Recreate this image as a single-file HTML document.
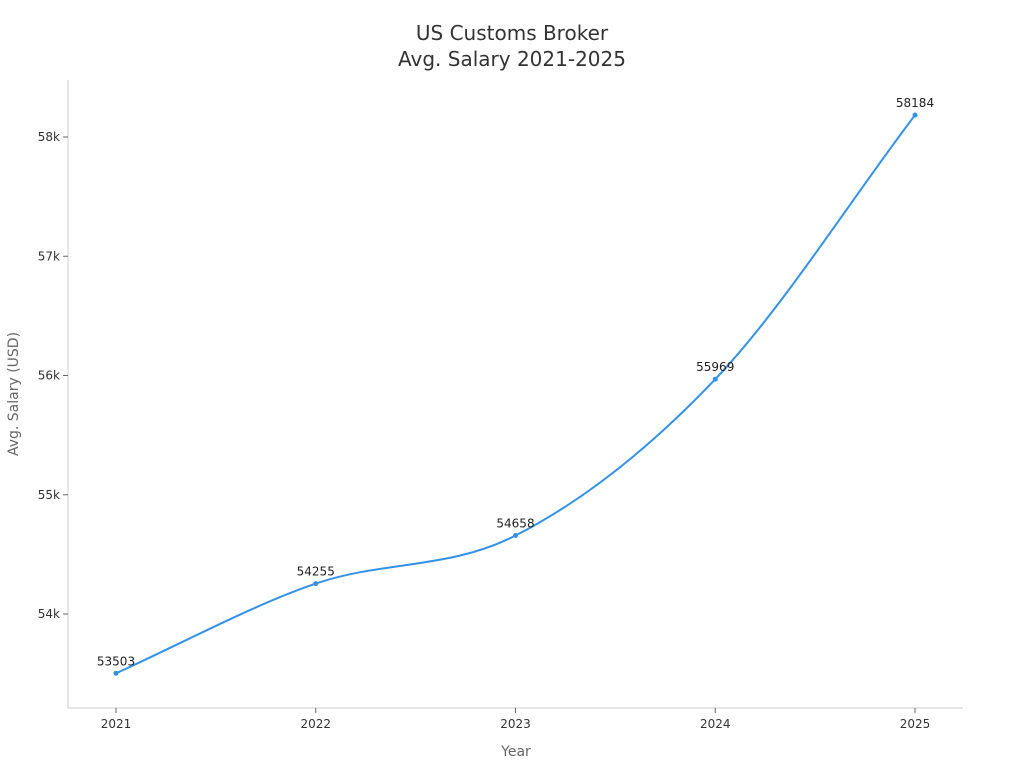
<!DOCTYPE html>
<html><head><meta charset="utf-8"><style>
html,body{margin:0;padding:0;background:#fff;}
svg{display:block;font-family:"DejaVu Sans","Liberation Sans",sans-serif;}
</style></head><body>
<svg id="chart" width="1024" height="768" viewBox="0 0 1024 768">
<text x="512" y="40" text-anchor="middle" font-size="20" fill="#333">US Customs Broker</text>
<text x="512" y="66" text-anchor="middle" font-size="20" fill="#333">Avg. Salary 2021-2025</text>
<line x1="68" y1="80" x2="68" y2="708" stroke="#ccc"/>
<line x1="68" y1="708" x2="963" y2="708" stroke="#ccc"/>
<text x="516" y="756" text-anchor="middle" font-size="14" fill="#666">Year</text>
<text transform="translate(18,394) rotate(-90)" text-anchor="middle" font-size="14" fill="#666">Avg. Salary (USD)</text>
<g id="ticks"></g>
<path id="line" fill="none" stroke="#3591e6" stroke-width="2"/>
<g id="points"></g>
</svg>
<script>
const years = ["2021","2022","2023","2024","2025"];
const salaries = [53503, 54255, 54658, 55969, 58184];
const yTicks = [54000, 55000, 56000, 57000, 58000];
const yTickLabels = ["54k","55k","56k","57k","58k"];

const NS = "http://www.w3.org/2000/svg";
function xs(i){ return 116 + i * (915 - 116) / (years.length - 1); }
function ys(v){ return 614 - (v - 54000) * (614 - 137) / 4000; }
function mk(tag, attrs, parent){ const e=document.createElementNS(NS,tag); for(const k in attrs) e.setAttribute(k,attrs[k]); parent.appendChild(e); return e; }

const tg = document.getElementById("ticks");
yTicks.forEach((t,i)=>{
  const l = mk("line",{x1:63,x2:68,y1:ys(t),y2:ys(t),stroke:"#666"},tg);
  
  
  const tx = mk("text",{x:60,y:ys(t)+4,"text-anchor":"end","font-size":12,fill:"#333"},tg);
  tx.textContent = yTickLabels[i];
  
  
});
years.forEach((y,i)=>{
  const l = mk("line",{x1:xs(i),x2:xs(i),y1:708,y2:713,stroke:"#666"},tg);
  
  
  const tx = mk("text",{x:xs(i),y:728,"text-anchor":"middle","font-size":12,fill:"#333"},tg);
  tx.textContent = y;
  
  
});

const P = salaries.map((v,i)=>[xs(i), ys(v)]);
const n = P.length, d=[], m=[];
for(let i=0;i<n-1;i++) d.push((P[i+1][1]-P[i][1])/(P[i+1][0]-P[i][0]));
m[0]=d[0]; m[n-1]=d[n-2];
for(let i=1;i<n-1;i++){ m[i] = d[i-1]*d[i]<=0 ? 0 : (d[i-1]+d[i])/2; }
for(let i=0;i<n-1;i++){
  if(d[i]===0){m[i]=m[i+1]=0;continue;}
  const a=m[i]/d[i], b=m[i+1]/d[i], s=a*a+b*b;
  if(s>9){const t=3/Math.sqrt(s); m[i]=t*a*d[i]; m[i+1]=t*b*d[i];}
}
let path = `M${P[0][0]},${P[0][1]}`;
for(let i=0;i<n-1;i++){
  const h=(P[i+1][0]-P[i][0])/3;
  path += ` C${P[i][0]+h},${P[i][1]+m[i]*h} ${P[i+1][0]-h},${P[i+1][1]-m[i+1]*h} ${P[i+1][0]},${P[i+1][1]}`;
}
document.getElementById("line").setAttribute("d", path);

const pg = document.getElementById("points");
salaries.forEach((v,i)=>{
  const c = mk("circle",{cx:xs(i),cy:ys(v),r:2.5,fill:"#3591e6"},pg);
  
  
  const tx = mk("text",{x:xs(i),y:ys(v)-8,"text-anchor":"middle","font-size":12,fill:"#222"},pg);
  tx.textContent = String(v);
  
  
});
</script>
</body></html>
